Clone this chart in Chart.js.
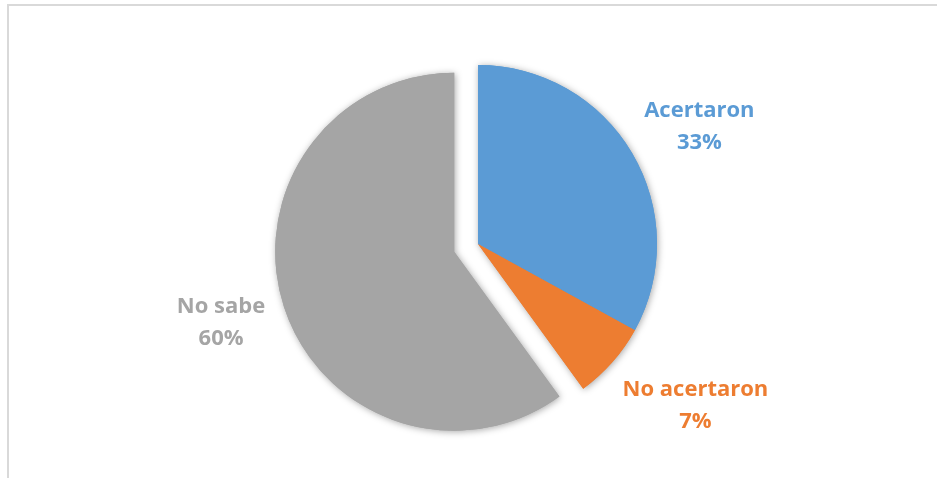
<!DOCTYPE html>
<html>
<head>
<meta charset="utf-8">
<script src="https://cdn.jsdelivr.net/npm/chart.js@4/dist/chart.umd.min.js"></script>
<style>
  html, body { margin: 0; padding: 0; background: #fff; overflow: hidden; }
  #wrap { position: relative; width: 937px; height: 478px; }
  #frame {
    position: absolute; left: 7px; top: 4px; width: 1200px; height: 800px;
    border-top: 2px solid #d9d9d9; border-left: 2px solid #d9d9d9;
  }
  canvas { position: absolute; left: 0; top: 0; }
</style>
</head>
<body>
<div id="wrap">
  <div id="frame"></div>
  <canvas id="pie" width="937" height="478"></canvas>
</div>
<script>
'use strict';

const categories = ['Acertaron', 'No acertaron', 'No sabe'];
const percents = [33, 7, 60];
const colors = ['#5B9BD5', '#ED7D31', '#A5A5A5'];
// pixels each slice is pulled out from the centre
const explode = [0, 0, 25];
// gap between the slice rim and the nearest edge of its label
const labelGap = [23, 38, 22];

const LINE_GAP = 32;

// chart.js grows an exploded arc by offset/4, so the pull-out is done here:
// translate, shadow pass, then the normal fill
const explodedSlices = {
    id: 'explodedSlices',
    beforeDatasetDraw(chart, args) {
        const ctx = chart.ctx;
        const arcs = args.meta.data;
        const shifted = (arc, i, fn) => {
            const mid = (arc.startAngle + arc.endAngle) / 2;
            ctx.save();
            ctx.translate(Math.cos(mid) * explode[i], Math.sin(mid) * explode[i]);
            fn();
            ctx.restore();
        };

        ctx.save();
        ctx.shadowColor = 'rgba(0, 0, 0, 0.35)';
        ctx.shadowBlur = 7;
        ctx.shadowOffsetX = 1;
        ctx.shadowOffsetY = 1;
        arcs.forEach((arc, i) => shifted(arc, i, () => arc.draw(ctx)));
        ctx.restore();

        arcs.forEach((arc, i) => shifted(arc, i, () => arc.draw(ctx)));
        return false;
    }
};

// category + percent written outside each slice, box pushed out along the mid angle
const outsideLabels = {
    id: 'outsideLabels',
    afterDatasetsDraw(chart) {
        const ctx = chart.ctx;
        const meta = chart.getDatasetMeta(0);
        ctx.save();
        ctx.font = 'bold 22px "Open Sans", sans-serif';
        ctx.textAlign = 'center';
        ctx.textBaseline = 'middle';
        meta.data.forEach((arc, i) => {
            const mid = (arc.startAngle + arc.endAngle) / 2;
            const dx = Math.cos(mid), dy = Math.sin(mid);
            const cx = arc.x + dx * explode[i];
            const cy = arc.y + dy * explode[i];
            const line2 = percents[i] + '%';
            const w = Math.max(ctx.measureText(categories[i]).width, ctx.measureText(line2).width);
            const h = LINE_GAP + 24;
            const r = arc.outerRadius + labelGap[i];
            const x = cx + dx * r + dx * w / 2;
            const y = cy + dy * r + dy * h / 2;
            ctx.fillStyle = colors[i];
            ctx.fillText(categories[i], x, y - LINE_GAP / 2);
            ctx.fillText(line2, x, y + LINE_GAP / 2);
        });
        ctx.restore();
    }
};

new Chart(document.getElementById('pie'), {
    type: 'pie',
    data: {
        labels: categories,
        datasets: [{
            data: percents,
            backgroundColor: colors,
            borderWidth: 0,
            hoverOffset: 0
        }]
    },
    options: {
        responsive: false,
        animation: false,
        radius: 179,
        layout: { padding: { top: 10, bottom: 0, left: 19, right: 0 } },
        plugins: {
            legend: { display: false },
            tooltip: { enabled: false }
        }
    },
    plugins: [explodedSlices, outsideLabels]
});
</script>
</body>
</html>
